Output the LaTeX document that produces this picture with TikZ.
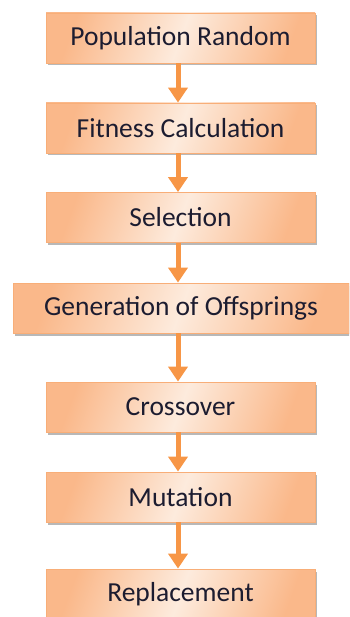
\documentclass[tikz,border=0pt]{standalone}
\usepackage{fontspec}
\setmainfont{Carlito}
\usepackage{xcolor}
\usetikzlibrary{arrows.meta,shadows}
\definecolor{boxedge}{HTML}{F8AE78}
\definecolor{boxdark}{HTML}{FAB88A}
\definecolor{boxlight}{HTML}{FDEBDD}
\definecolor{flowarrow}{HTML}{F79646}
\definecolor{boxtext}{HTML}{1C1C30}
\tikzset{
  stage/.style={draw=boxedge,line width=0.8pt,left color=boxdark,right color=boxdark,middle color=boxlight,
    shading angle=70,minimum width=269pt,minimum height=50pt,inner sep=0pt,text=boxtext,
    font=\fontsize{27.5}{30}\selectfont,
    drop shadow={shadow xshift=2pt,shadow yshift=-2.5pt,fill=black!35,opacity=0.8}},
  widestage/.style={stage,minimum width=336pt},
  flow/.style={draw=flowarrow,line width=5pt,-{Triangle[width=19pt,length=15pt]}}
}

\begin{document}
\begin{tikzpicture}
\clip (0,0) rectangle (349pt,-617pt);
\node[stage] (pop) at (180.5pt,-38pt) {Population Random};
\node[stage] (fit) at (180.5pt,-128pt) {Fitness Calculation};
\node[stage] (sel) at (180.5pt,-217.5pt) {Selection};
\node[widestage] (gen) at (181pt,-308pt) {Generation of Offsprings};
\node[stage] (cross) at (180.5pt,-407pt) {Crossover};
\node[stage] (mut) at (180.5pt,-497pt) {Mutation};
\node[stage] (rep) at (180.5pt,-594pt) {Replacement};
\draw[flow] ([xshift=-2.5pt]pop.south) -- ([xshift=-2.5pt]fit.north);
\draw[flow] ([xshift=-2.5pt]fit.south) -- ([xshift=-2.5pt]sel.north);
\draw[flow] ([xshift=-2.5pt]sel.south) -- ([xshift=-3pt]gen.north);
\draw[flow] ([xshift=-3pt]gen.south) -- ([xshift=-2.5pt]cross.north);
\draw[flow] ([xshift=-2.5pt]cross.south) -- ([xshift=-2.5pt]mut.north);
\draw[flow] ([xshift=-2.5pt]mut.south) -- ([xshift=-2.5pt]rep.north);
\end{tikzpicture}
\end{document}
